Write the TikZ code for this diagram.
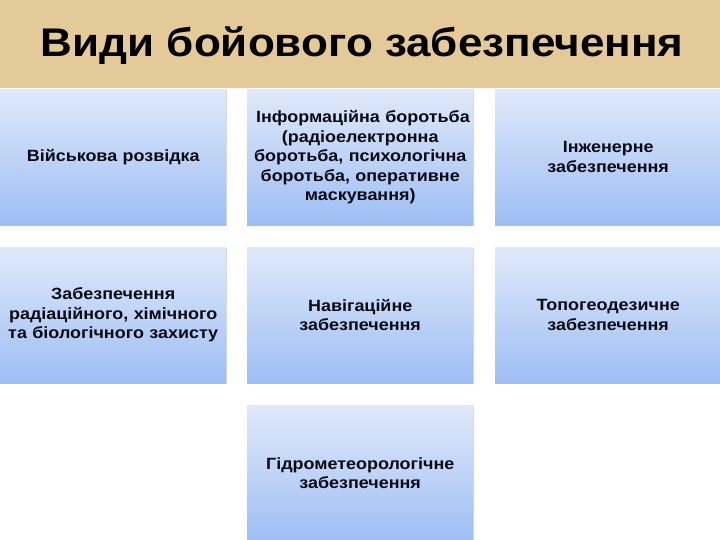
\documentclass[tikz,border=0pt]{standalone}
\usepackage{fontspec}
\setmainfont{Liberation Sans}[FakeStretch=1.1]
\usetikzlibrary{shadows}
\definecolor{tan}{HTML}{E3CA98}
\definecolor{btop}{HTML}{E0E9FA}
\definecolor{bbot}{HTML}{9EBEF4}
\definecolor{txt}{HTML}{0A0A14}
\tikzset{
  box/.style={minimum width=226pt, minimum height=136pt, anchor=north west,
    top color=btop, bottom color=bbot, draw=none, inner sep=0pt,
    text width=222pt, align=center, font=\bfseries\fontsize{16.3}{19.5}\selectfont, text=txt,
    drop shadow={shadow xshift=1.2pt, shadow yshift=-1.2pt, opacity=0.25, fill=black!60}},
}
\begin{document}
\begin{tikzpicture}[x=1pt,y=-1pt]
\useasboundingbox (0,0) rectangle (720,540);
\fill[white] (0,0) rectangle (720,540);
\fill[tan] (0,0) rectangle (720,88);
\node[font=\bfseries\fontsize{40}{42}\selectfont, text=black] (title) at (362,46) {Види бойового забезпечення};
\node[box] (b1) at (0,89) {Військова розвідка};
\node[box] (b2) at (247,89) {\ Інформаційна боротьба (радіоелектронна боротьба, психологічна боротьба, оперативне маскування)};
\node[box] (b3) at (495,89) {Інженерне\\забезпечення};
\node[box] (b4) at (0,247) {Забезпечення радіаційного, хімічного та біологічного захисту};
\node[box] (b5) at (247,247) {Навігаційне\\забезпечення};
\node[box] (b6) at (495,247) {Топогеодезичне\\забезпечення};
\node[box] (b7) at (247,405) {Гідрометеорологічне\\забезпечення};
\end{tikzpicture}
\end{document}
